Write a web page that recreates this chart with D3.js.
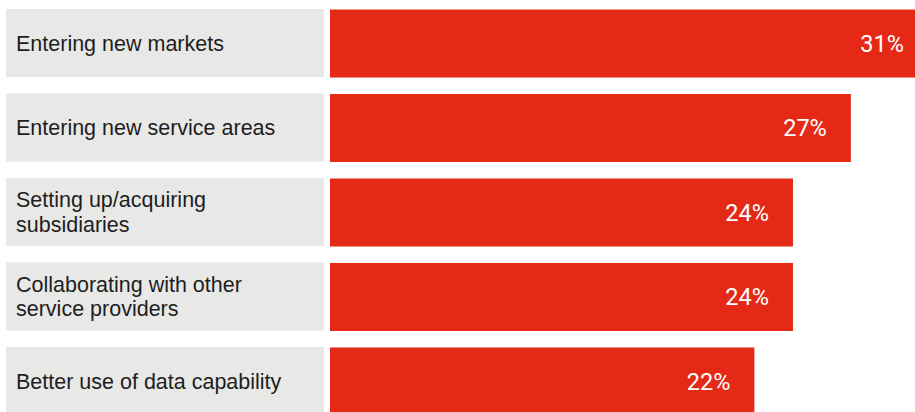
<!DOCTYPE html>
<html>
<head>
<meta charset="utf-8">
<script src="https://cdn.jsdelivr.net/npm/d3@7/dist/d3.min.js"></script>
<style>
  html, body { margin: 0; padding: 0; background: #ffffff; }
  svg { display: block; }
</style>
</head>
<body>
<svg id="chart" width="915" height="412"></svg>
<script>
// Share of respondents citing each growth strategy (%)
const categories = [
  "Entering new markets",
  "Entering new service areas",
  "Setting up/acquiring\nsubsidiaries",
  "Collaborating with other\nservice providers",
  "Better use of data capability"
];
const values = [31, 27, 24, 24, 22];

const width = 915, height = 412;
const svg = d3.select("#chart");

const rows = categories.map((c, i) => ({ category: c, value: values[i] }));

const y = d3.scaleBand()
  .domain(categories)
  .range([9, 415])
  .paddingInner(0.195)
  .paddingOuter(0);

const x = d3.scaleLinear()
  .domain([0, 31])
  .range([330, 928]);

const labelBoxX0 = 6, labelBoxX1 = 324;

// Grey category panels
svg.append("g")
  .selectAll("rect")
  .data(rows)
  .join("rect")
  .attr("x", labelBoxX0)
  .attr("y", d => y(d.category))
  .attr("width", labelBoxX1 - labelBoxX0)
  .attr("height", y.bandwidth())
  .attr("fill", "#e8e8e7");

// Category text, one tspan per line, centred vertically in its panel
const lineHeight = 24.5;
svg.append("g")
  .selectAll("text")
  .data(rows)
  .join("text")
  .attr("font-family", "'Liberation Sans', Arial, sans-serif")
  .attr("font-size", 21.5)
  .attr("fill", "#1e1e1e")
  .each(function(d) {
    const lines = d.category.split("\n");
    const cy = y(d.category) + y.bandwidth() / 2;
    const first = cy - (lines.length - 1) * lineHeight / 2;
    d3.select(this).selectAll("tspan")
      .data(lines)
      .join("tspan")
      .attr("x", 16)
      .attr("y", (l, i) => first + i * lineHeight)
      .attr("dy", "0.35em")
      .text(l => l);
  });

// Value bars
svg.append("g")
  .selectAll("rect")
  .data(rows)
  .join("rect")
  .attr("x", x(0))
  .attr("y", d => y(d.category) + 0.5)
  .attr("width", d => x(d.value) - x(0))
  .attr("height", y.bandwidth())
  .attr("fill", "#e42a17");

// Value labels inside the bar ends
svg.append("g")
  .selectAll("text")
  .data(rows)
  .join("text")
  .attr("x", d => x(d.value) - 24)
  .attr("y", d => y(d.category) + y.bandwidth() / 2 + 0.5)
  .attr("dy", "0.36em")
  .attr("text-anchor", "end")
  .attr("font-family", "Roboto, 'Liberation Sans', sans-serif")
  .attr("font-weight", 400)
  .attr("font-size", 23.5)
  .attr("fill", "#ffffff")
  .text(d => d.value + "%");
</script>
</body>
</html>
